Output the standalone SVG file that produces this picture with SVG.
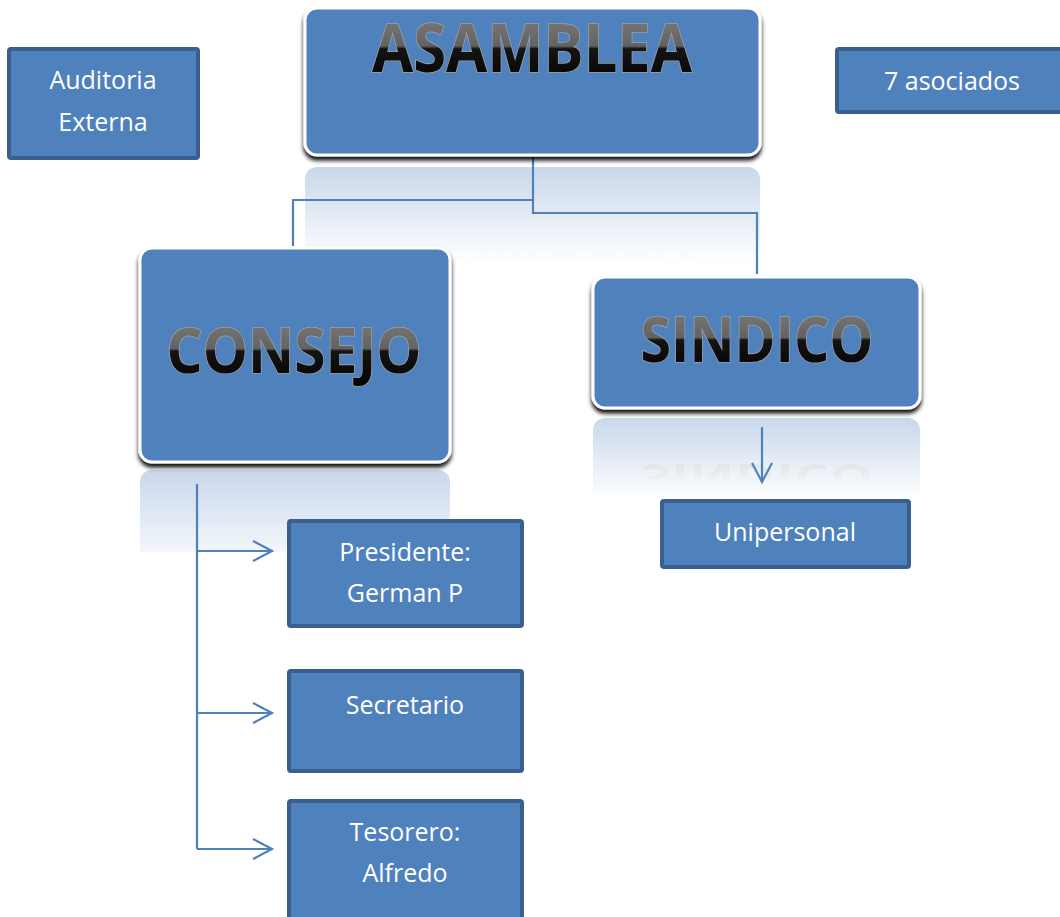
<svg xmlns="http://www.w3.org/2000/svg" width="1060" height="917" viewBox="0 0 1060 917">
<defs>
<style>
.big{fill:#4f81bd;stroke:#ffffff;stroke-width:3}
.small{fill:#4f81bd;stroke:#3a5f8e;stroke-width:4}
.lbl{font-family:"Open Sans","Liberation Sans",sans-serif;font-size:25px;fill:#ffffff;text-anchor:middle}
.title{font-family:"Open Sans","Liberation Sans",sans-serif;font-weight:bold;text-anchor:middle;fill:url(#gloss);stroke:#a0a0a0;stroke-width:1.6;paint-order:stroke}
.conn{fill:none;stroke:#4f81bd;stroke-width:2.2}
.refl{opacity:0.55}
</style>
<linearGradient id="gloss" x1="0" y1="0" x2="0" y2="1">
<stop offset="0" stop-color="#858585"/>
<stop offset="0.5" stop-color="#626262"/>
<stop offset="0.53" stop-color="#141414"/>
<stop offset="1" stop-color="#000000"/>
</linearGradient>
<filter id="shadow" x="-5%" y="-5%" width="110%" height="120%">
<feDropShadow dx="0" dy="4" stdDeviation="2" flood-color="#000000" flood-opacity="0.95"/>
</filter>
<linearGradient id="fadeA" gradientUnits="userSpaceOnUse" x1="0" y1="165" x2="0" y2="262">
<stop offset="0" stop-color="#ffffff" stop-opacity="0.32"/>
<stop offset="1" stop-color="#ffffff" stop-opacity="0"/>
</linearGradient>
<linearGradient id="fadeC" gradientUnits="userSpaceOnUse" x1="0" y1="468" x2="0" y2="575">
<stop offset="0" stop-color="#ffffff" stop-opacity="0.32"/>
<stop offset="1" stop-color="#ffffff" stop-opacity="0"/>
</linearGradient>
<linearGradient id="fadeS" gradientUnits="userSpaceOnUse" x1="0" y1="416" x2="0" y2="500">
<stop offset="0" stop-color="#ffffff" stop-opacity="0.32"/>
<stop offset="1" stop-color="#ffffff" stop-opacity="0"/>
</linearGradient>
<mask id="mA" maskUnits="userSpaceOnUse" x="0" y="0" width="1060" height="917"><rect x="290" y="160" width="490" height="110" fill="url(#fadeA)"/></mask>
<mask id="mC" maskUnits="userSpaceOnUse" x="0" y="0" width="1060" height="917"><rect x="130" y="465" width="330" height="87" fill="url(#fadeC)"/></mask>
<mask id="mS" maskUnits="userSpaceOnUse" x="0" y="0" width="1060" height="917"><rect x="585" y="412" width="345" height="86" fill="url(#fadeS)"/></mask>
<marker id="arr" markerUnits="userSpaceOnUse" markerWidth="24" markerHeight="24" refX="19" refY="10" orient="auto" viewBox="-2 -2 24 24">
<path d="M0,0 L19,10 L0,20" fill="none" stroke="#4f81bd" stroke-width="2.2"/>
</marker>
</defs>
<rect width="1060" height="917" fill="#ffffff"/>

<g id="reflections">
<g mask="url(#mA)">
<g transform="translate(0,322) scale(1,-1)">
<rect x="305" y="8" width="455" height="147" rx="12" fill="#4f81bd"/>
<text x="532" y="72" font-size="66" textLength="320" lengthAdjust="spacingAndGlyphs" class="title refl">ASAMBLEA</text>
</g>
</g>
<g mask="url(#mC)">
<g transform="translate(0,932) scale(1,-1)">
<rect x="140" y="248" width="310" height="214" rx="12" fill="#4f81bd"/>
</g>
</g>
<g mask="url(#mS)">
<g transform="translate(0,826) scale(1,-1)">
<rect x="593" y="277" width="327" height="131" rx="12" fill="#4f81bd"/>
</g>
<g transform="translate(0,681.2) scale(1,-0.6)">
<text x="757" y="362" font-size="63" textLength="233" lengthAdjust="spacingAndGlyphs" class="title refl">SINDICO</text>
</g>
</g>
</g>

<g id="connectors">
<path class="conn" d="M533,155 L533,213 L757,213 L757,274"/>
<path class="conn" d="M533,200 L293,200 L293,246"/>
<path class="conn" d="M762,427 L762,482" marker-end="url(#arr)"/>
<path class="conn" d="M197,484 L197,849"/>
<path class="conn" d="M197,551 L272,551" marker-end="url(#arr)"/>
<path class="conn" d="M197,713 L272,713" marker-end="url(#arr)"/>
<path class="conn" d="M197,849 L272,849" marker-end="url(#arr)"/>
</g>

<g id="asamblea">
<rect class="big" x="305" y="8" width="455" height="147" rx="12" filter="url(#shadow)"/>
<text class="title" x="532" y="72" font-size="66" textLength="320" lengthAdjust="spacingAndGlyphs">ASAMBLEA</text>
</g>

<g id="consejo">
<rect class="big" x="140" y="248" width="310" height="214" rx="12" filter="url(#shadow)"/>
<text class="title" x="294" y="373" font-size="63" textLength="255" lengthAdjust="spacingAndGlyphs">CONSEJO</text>
</g>

<g id="sindico">
<rect class="big" x="593" y="277" width="327" height="131" rx="12" filter="url(#shadow)"/>
<text class="title" x="757" y="362" font-size="63" textLength="233" lengthAdjust="spacingAndGlyphs">SINDICO</text>
</g>

<g id="auditoria">
<rect class="small" x="9" y="49" width="189" height="109" rx="2"/>
<text class="lbl" x="103" y="89">Auditoria</text>
<text class="lbl" x="103" y="131">Externa</text>
</g>

<g id="asociados">
<rect class="small" x="837" y="49" width="230" height="63" rx="2"/>
<text class="lbl" x="952" y="90">7 asociados</text>
</g>

<g id="presidente">
<rect class="small" x="289" y="521" width="233" height="105" rx="2"/>
<text class="lbl" x="405" y="561">Presidente:</text>
<text class="lbl" x="405" y="602">German P</text>
</g>

<g id="secretario">
<rect class="small" x="289" y="671" width="233" height="100" rx="2"/>
<text class="lbl" x="405" y="714">Secretario</text>
</g>

<g id="tesorero">
<rect class="small" x="289" y="801" width="233" height="125" rx="2"/>
<text class="lbl" x="405" y="841">Tesorero:</text>
<text class="lbl" x="405" y="882">Alfredo</text>
</g>

<g id="unipersonal">
<rect class="small" x="662" y="501" width="247" height="66" rx="2"/>
<text class="lbl" x="785" y="541">Unipersonal</text>
</g>
</svg>
